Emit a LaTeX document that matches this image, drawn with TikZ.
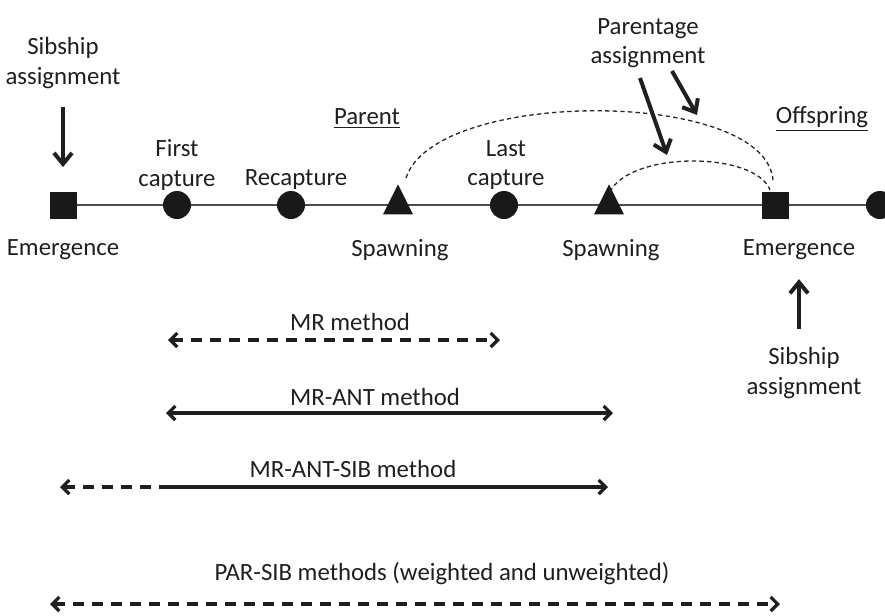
\documentclass[tikz,border=0pt]{standalone}
\usepackage{fontspec}
\setmainfont{Carlito}
\usetikzlibrary{arrows.meta,shapes.geometric}

\begin{document}
\begin{tikzpicture}[x=0.5pt,y=-0.5pt,
    every node/.style={font=\fontsize{12.4}{14.6}\selectfont, text=black!88, align=center},
    sq/.style={draw=none, fill=black!90, minimum size=13.5pt, inner sep=0pt},
    dot/.style={circle, fill=black!90, minimum size=14pt, inner sep=0pt},
    tri/.style={isosceles triangle, isosceles triangle stretches, shape border rotate=90,
        fill=black!90, minimum height=15pt, minimum width=15pt, inner sep=0pt},
    timeline/.style={line width=1.1pt, draw=black!70},
    arcdash/.style={line width=0.65pt, dash pattern=on 2.2pt off 1.6pt, black!85},
    bigarr/.style={-{Straight Barb[length=5.5pt,width=9pt]}, line width=2pt, black!88},
    methodarr/.style={line width=1.6pt, black!88},
    mtip/.tip={Straight Barb[length=3.5pt,width=7pt]},
    mdash/.style={dash pattern=on 5.5pt off 4pt}]
    \useasboundingbox (0,0) rectangle (885,616);

    % Timeline
    \foreach \name/\x in {e1/63, c1/177, c2/291, s1/398, c3/504, s2/609, e2/775, c4/880}
        \coordinate (\name) at (\x,205);
    \coordinate (edge) at (885,205);
    \draw[timeline] (e1) -- (edge);
    \node[sq]  (em1)  at (e1) {};
    \node[dot] (cap1) at (c1) {};
    \node[dot] (cap2) at (c2) {};
    \node[tri] (sp1)  at (s1) {};
    \node[dot] (cap3) at (c3) {};
    \node[tri] (sp2)  at (s2) {};
    \node[sq]  (em2)  at (e2) {};
    \node[dot] (cap4) at (c4) {};

    % Labels on the timeline
    \node (emlab1) at (63,250) {Emergence};
    \node (splab1) at (400,250) {Spawning};
    \node (splab2) at (611,250) {Spawning};
    \node (emlab2) at (799,250) {Emergence};
    \node (cap1lab) at (177,165) {First\\capture};
    \node (recap) at (296,180) {Recapture};
    \node (cap3lab) at (506,165) {Last\\capture};
    \node (parent) at (367,119) {\underline{Parent}};
    \node (offspr) at (822,119) {\underline{Offspring}};

    % Sibship and parentage assignment
    \node (sib1) at (63,63) {Sibship\\assignment};
    \draw[bigarr, shorten <=6pt, shorten >=12pt] (sib1) -- (em1);
    \node (sib2) at (804,373) {Sibship\\assignment};
    \draw[bigarr, shorten <=6pt, shorten >=6pt] (sib2.north -| emlab2) -- (emlab2.south);
    \node (par) at (648,43) {Parentage\\assignment};
    \coordinate (pa1) at (640,78);
    \coordinate (pb1) at (667,155);
    \coordinate (pa2) at (672,71);
    \coordinate (pb2) at (697,115);
    \draw[bigarr] (pa1) -- (pb1);
    \draw[bigarr] (pa2) -- (pb2);
    \draw[arcdash] (406,178) .. controls (435,88) and (765,88) .. (773,180);
    \draw[arcdash] (610,192) .. controls (630,151) and (755,151) .. (770,190);

    % Methods
    \node (mr) at (350,322) {MR method};
    \coordinate (mrL) at (168,340);
    \coordinate (mrR) at (500,340);
    \draw[methodarr, mdash, mtip-mtip] (mrL) -- (mrR);

    \node (mrant) at (375,397) {MR-ANT method};
    \coordinate (antL) at (166,413);
    \coordinate (antR) at (613,413);
    \draw[methodarr, mtip-mtip] (antL) -- (antR);

    \node (mrantsib) at (353,469) {MR-ANT-SIB method};
    \coordinate (sibL) at (60,487);
    \coordinate (sibM) at (166,487);
    \coordinate (sibR) at (608,487);
    \draw[methodarr, mdash, mtip-] (sibL) -- (sibM);
    \draw[methodarr, -mtip] (sibM) -- (sibR);

    \node (parsib) at (442,574) {PAR-SIB methods (weighted and unweighted)};
    \coordinate (psL) at (50,604);
    \coordinate (psR) at (780,604);
    \draw[methodarr, mdash, mtip-mtip] (psL) -- (psR);
\end{tikzpicture}
\end{document}
